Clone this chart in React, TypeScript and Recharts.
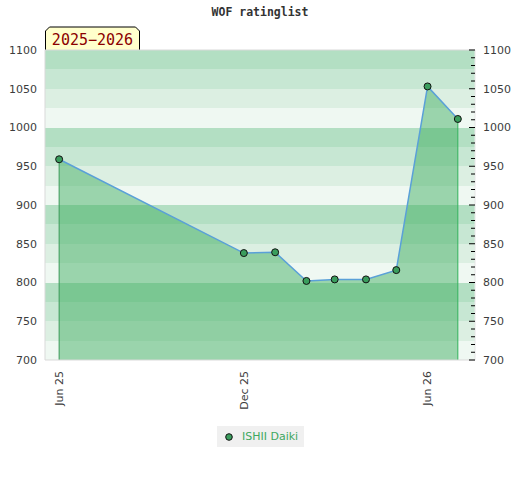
import React from "react";
import {
  ComposedChart,
  Area,
  XAxis,
  YAxis,
  CartesianGrid,
  ReferenceLine,
  Legend,
} from "recharts";

// monthly rating lists
const listDates = [
  "2025-06-01",
  "2025-12-01",
  "2026-01-01",
  "2026-02-01",
  "2026-03-01",
  "2026-04-01",
  "2026-05-01",
  "2026-06-01",
  "2026-07-01",
];
const ratings = [959, 838, 839, 802, 804, 804, 816, 1053, 1011];

const xTickDates = ["2025-06-01", "2025-12-01", "2026-06-01"];
const xTickLabels = ["Jun 25", "Dec 25", "Jun 26"];
const xDomainDates = ["2025-05-18", "2026-07-18"];

const yTicks = [700, 750, 800, 850, 900, 950, 1000, 1050, 1100];
const yMinorTicks = [
  700, 710, 720, 730, 740, 750, 760, 770, 780, 790, 800, 810, 820, 830, 840,
  850, 860, 870, 880, 890, 900, 910, 920, 930, 940, 950, 960, 970, 980, 990,
  1000, 1010, 1020, 1030, 1040, 1050, 1060, 1070, 1080, 1090, 1100,
];
const bandEdges = [
  1100, 1075, 1050, 1025, 1000, 975, 950, 925, 900, 875, 850, 825, 800, 775,
  750, 725, 700,
];
const bandColors = ["#b3dfc3", "#c7e7d3", "#dcefe2", "#eff8f2"];

const playerName = "ISHII Daiki";
const seasonLabel = "2025\u22122026";
const title = "WOF ratinglist";

const ts = (d: string) => Date.parse(d + "T00:00:00Z");

const data = listDates.map((d, i) => ({ t: ts(d), rating: ratings[i] }));
const first = data[0];
const last = data[data.length - 1];

const GREEN = "#37a959";
const AXIS_TEXT = { fontSize: 11, fontFamily: "DejaVu Sans", fill: "#3c3c3c" };

const BottomTick = (props: any) => {
  const { x, y, payload } = props;
  const idx = xTickDates.findIndex((d) => ts(d) === payload.value);
  return (
    <text
      x={x}
      y={y + 3}
      transform={`rotate(-90 ${x} ${y + 3})`}
      textAnchor="end"
      dy="0.35em"
      {...AXIS_TEXT}
    >
      {idx >= 0 ? xTickLabels[idx] : ""}
    </text>
  );
};

// right axis: inward tick marks every 10, labels every 50
const RightTick = (props: any) => {
  const { x, y, payload } = props;
  const major = yTicks.includes(payload.value);
  return (
    <g>
      <line
        x1={x - 8 - (major ? 6 : 4)}
        x2={x - 8}
        y1={y}
        y2={y}
        stroke="#000"
        strokeWidth={1}
      />
      {major && (
        <text x={x} y={y} dy="0.35em" textAnchor="start" {...AXIS_TEXT}>
          {payload.value}
        </text>
      )}
    </g>
  );
};

const LegendContent = () => (
  <div
    style={{
      background: "#f0f0f0",
      display: "inline-flex",
      alignItems: "center",
      height: 21,
      padding: "0 6px 0 8px",
      fontFamily: "DejaVu Sans",
      fontSize: 11,
      color: "#3ea85f",
    }}
  >
    <svg width={8} height={10} style={{ marginRight: 9 }}>
      <circle cx={4} cy={5} r={3.3} fill="#3a9d5d" stroke="#111" />
    </svg>
    {playerName}
  </div>
);

export default function App() {
  return (
    <div style={{ position: "absolute", left: 0, top: 0, width: 520, height: 480 }}>
      <div
        style={{
          position: "absolute",
          left: 0,
          top: 5,
          width: 520,
          textAlign: "center",
          fontFamily: "DejaVu Sans Mono",
          fontWeight: "bold",
          fontSize: 11.5,
          color: "#333",
        }}
      >
        {title}
      </div>
      <svg
        width={100}
        height={26}
        style={{ position: "absolute", left: 44, top: 26 }}
      >
        <polygon
          points="1.5,5 5.5,1 91.5,1 95.5,5 95.5,24.5 1.5,24.5"
          fill="#ffffcc"
          stroke="#000"
          strokeWidth={1}
        />
        <text
          x={48.5}
          y={19}
          textAnchor="middle"
          fontFamily="DejaVu Sans Mono"
          fontSize={15}
          fill="#8b0000"
        >
          {seasonLabel}
        </text>
      </svg>
      <ComposedChart
        width={520}
        height={480}
        data={data}
        margin={{ top: 50, right: 0, bottom: 60, left: 0 }}
      >
        <CartesianGrid
          yAxisId="left"
          vertical={false}
          horizontalValues={bandEdges}
          horizontalFill={bandColors}
          stroke="none"
        />
        <XAxis
          dataKey="t"
          type="number"
          scale="time"
          domain={[ts(xDomainDates[0]), ts(xDomainDates[1])]}
          ticks={xTickDates.map(ts)}
          tick={<BottomTick />}
          tickLine={false}
          axisLine={{ stroke: "#d9d9d9" }}
          height={60}
          interval={0}
        />
        <YAxis
          yAxisId="left"
          orientation="left"
          width={45}
          domain={[700, 1100]}
          ticks={yTicks}
          tickLine={false}
          axisLine={{ stroke: "#d9d9d9" }}
          tick={AXIS_TEXT}
          interval={0}
        />
        <YAxis
          yAxisId="right"
          orientation="right"
          width={45}
          domain={[700, 1100]}
          ticks={yMinorTicks}
          tickLine={false}
          axisLine={{ stroke: "#e6e6e6" }}
          tick={<RightTick />}
          interval={0}
        />
        <ReferenceLine yAxisId="left" y={1100} stroke="#d9d9d9" />
        <Area
          yAxisId="left"
          type="linear"
          dataKey="rating"
          name={playerName}
          stroke="#5aa0d8"
          strokeWidth={1.5}
          fill={GREEN}
          fillOpacity={0.46}
          baseValue={700}
          dot={{ r: 3.5, fill: "#3a9d5d", stroke: "#111", strokeWidth: 1, fillOpacity: 1 }}
          activeDot={false}
          isAnimationActive={false}
        />
        {/* same series bound to the right axis so that axis renders its ticks */}
        <Area
          yAxisId="right"
          type="linear"
          dataKey="rating"
          stroke="none"
          fill="none"
          dot={false}
          activeDot={false}
          legendType="none"
          isAnimationActive={false}
        />
        <ReferenceLine
          yAxisId="left"
          segment={[
            { x: first.t, y: 700 },
            { x: first.t, y: first.rating },
          ]}
          stroke="#3a9a58"
          strokeWidth={1}
        />
        <ReferenceLine
          yAxisId="left"
          segment={[
            { x: last.t, y: 700 },
            { x: last.t, y: last.rating },
          ]}
          stroke="#33b25c"
          strokeWidth={1}
        />
        <Legend
          layout="horizontal"
          verticalAlign="middle"
          align="center"
          content={<LegendContent />}
          wrapperStyle={{ position: "absolute", left: 217, top: 426, width: "auto" }}
        />
      </ComposedChart>
    </div>
  );
}
